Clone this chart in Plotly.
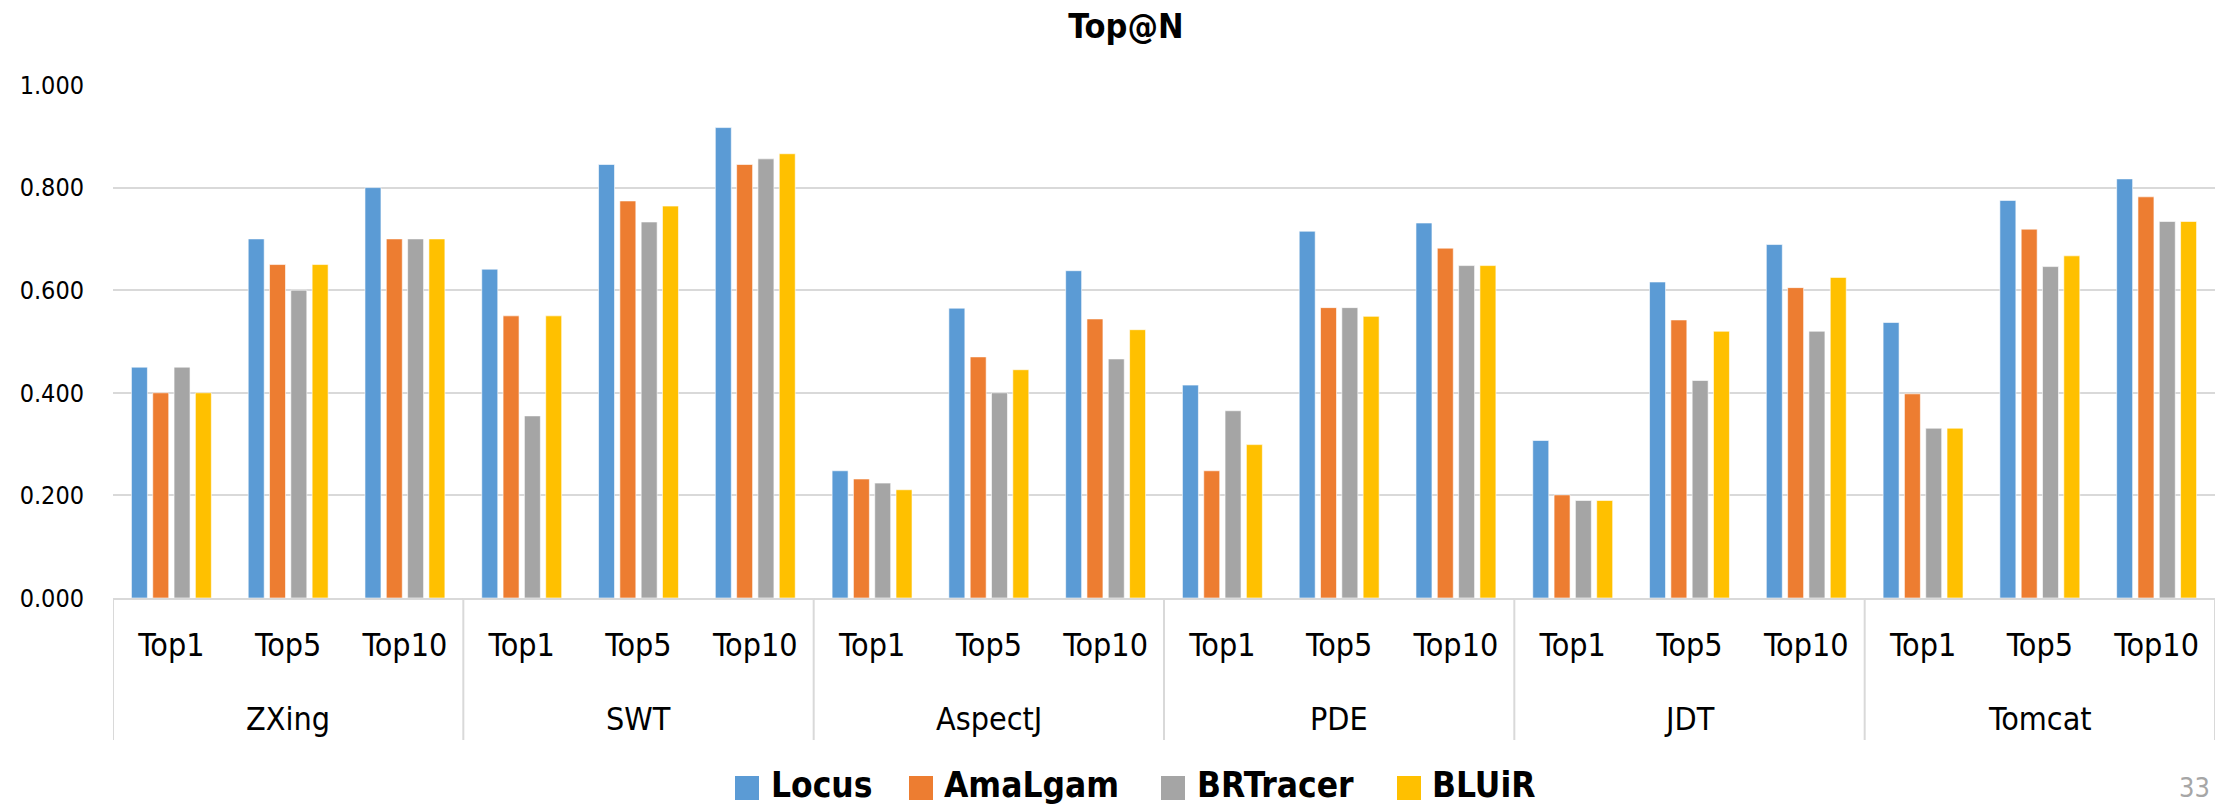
import plotly.graph_objects as go

projects = ["ZXing", "SWT", "AspectJ", "PDE", "JDT", "Tomcat"]
metrics = ["Top1", "Top5", "Top10"]

locus    = [0.450, 0.700, 0.800, 0.641, 0.845, 0.917, 0.248, 0.565, 0.638, 0.415, 0.715, 0.731, 0.307, 0.616, 0.689, 0.537, 0.775, 0.817]
amalgam  = [0.400, 0.650, 0.700, 0.550, 0.774, 0.845, 0.232, 0.470, 0.544, 0.248, 0.566, 0.682, 0.201, 0.542, 0.605, 0.398, 0.719, 0.782]
brtracer = [0.450, 0.600, 0.700, 0.355, 0.733, 0.856, 0.224, 0.400, 0.466, 0.365, 0.566, 0.648, 0.190, 0.424, 0.520, 0.331, 0.646, 0.734]
bluir    = [0.400, 0.650, 0.700, 0.550, 0.764, 0.866, 0.211, 0.445, 0.523, 0.299, 0.549, 0.648, 0.190, 0.520, 0.625, 0.331, 0.667, 0.734]

series_names = ["Locus", "AmaLgam", "BRTracer", "BLUiR"]
series_colors = ["#5B9BD5", "#ED7D31", "#A5A5A5", "#FFC000"]

FONT = "DejaVu Sans Condensed, DejaVu Sans, sans-serif"

W, H = 2234, 806
ML, MR, MT, MB = 113, 19, 85, 208
PW, PH = W - ML - MR, H - MT - MB


def px_x(x):
    return (x - ML) / PW


def px_y(y):
    return (H - MB - y) / PH


n_cat = len(projects) * len(metrics)
x_idx = list(range(n_cat))
x_labels = [m for _ in projects for m in metrics]

fig = go.Figure()
for name, vals, col in zip(series_names, [locus, amalgam, brtracer, bluir], series_colors):
    fig.add_trace(go.Bar(
        x=x_idx, y=vals, name=name, showlegend=False,
        marker=dict(color=col, line=dict(color="rgba(255,255,255,0.6)", width=1)),
    ))

fig.update_layout(
    width=W, height=H,
    paper_bgcolor="white", plot_bgcolor="white",
    margin=dict(l=ML, r=MR, t=MT, b=MB),
    barmode="group", bargap=0.27, bargroupgap=0.25,
    font=dict(family=FONT, color="#000000"),
    title=dict(text="<b>Top@N</b>", x=0.504, xanchor="center", y=0.968, yanchor="middle",
               font=dict(family=FONT, size=34, color="#000000")),
    showlegend=False,
)
fig.update_yaxes(range=[0, 1.0], dtick=0.2, tickformat=".3f", automargin=False,
                 showgrid=True, gridcolor="#D9D9D9", gridwidth=2,
                 zeroline=False, showline=False, ticks="", ticklabelstandoff=28,
                 tickfont=dict(family=FONT, size=25, color="#000000"))
fig.update_xaxes(range=[-0.5, n_cat - 0.5], automargin=False,
                 tickmode="array", tickvals=x_idx, ticktext=x_labels,
                 showgrid=False, zeroline=False,
                 showline=True, linecolor="#D9D9D9", linewidth=2,
                 ticks="", ticklabelstandoff=18,
                 tickfont=dict(family=FONT, size=32, color="#000000"))

# group labels and dividers of the two-level category axis
for g, proj in enumerate(projects):
    center = g * len(metrics) + (len(metrics) - 1) / 2
    fig.add_annotation(text=proj, x=center, xref="x", y=px_y(719), yref="paper",
                       xanchor="center", yanchor="middle", showarrow=False,
                       font=dict(family=FONT, size=32, color="#000000"))
for g in range(len(projects) + 1):
    xb = g * len(metrics) - 0.5
    fig.add_shape(type="line", xref="x", yref="paper", x0=xb, x1=xb,
                  y0=0, y1=px_y(740), line=dict(color="#D9D9D9", width=2))

# legend
leg_marker_x = [735, 909, 1161, 1397]
leg_text_x = [772, 945, 1198, 1433]
for name, col, mx, tx in zip(series_names, series_colors, leg_marker_x, leg_text_x):
    fig.add_shape(type="rect", xref="paper", yref="paper",
                  x0=px_x(mx), x1=px_x(mx + 24), y0=px_y(800), y1=px_y(776),
                  fillcolor=col, line=dict(width=0))
    fig.add_annotation(text="<b>" + name + "</b>", xref="paper", yref="paper",
                       x=px_x(tx - 2), y=px_y(806), xanchor="left", yanchor="bottom",
                       showarrow=False, borderpad=0,
                       font=dict(family=FONT, size=35, color="#000000"))

fig.add_annotation(text="33", xref="paper", yref="paper", x=px_x(2194), y=px_y(787),
                   xanchor="center", yanchor="middle", showarrow=False,
                   font=dict(family=FONT, size=27, color="#A6A6A6"))

fig.write_html("out.html", config={"displayModeBar": False},
               post_script="document.body.style.margin='0';")
